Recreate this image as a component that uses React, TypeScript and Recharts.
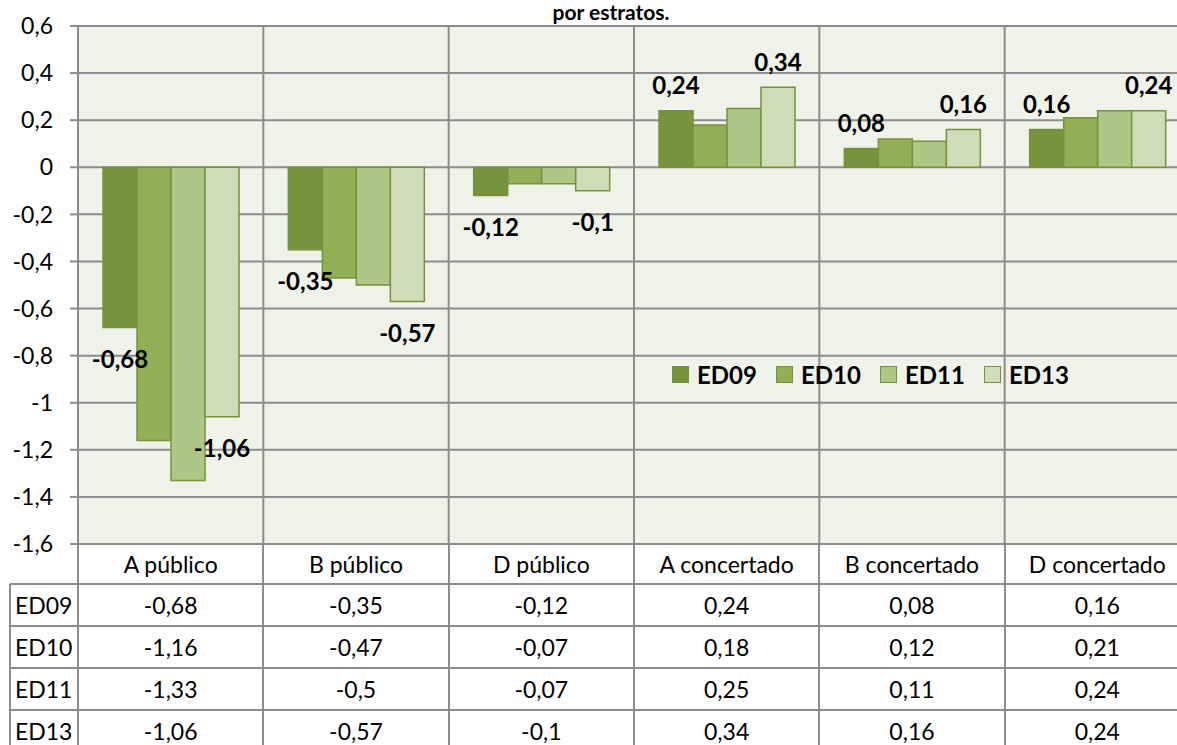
import { BarChart, Bar, XAxis, YAxis, CartesianGrid, Legend, LabelList } from "recharts";

const categories = ["A público", "B público", "D público", "A concertado", "B concertado", "D concertado"];
const seriesNames = ["ED09", "ED10", "ED11", "ED13"];
const ed09 = [-0.68, -0.35, -0.12, 0.24, 0.08, 0.16];
const ed10 = [-1.16, -0.47, -0.07, 0.18, 0.12, 0.21];
const ed11 = [-1.33, -0.5, -0.07, 0.25, 0.11, 0.24];
const ed13 = [-1.06, -0.57, -0.1, 0.34, 0.16, 0.24];
const yTicks = [-1.6, -1.4, -1.2, -1, -0.8, -0.6, -0.4, -0.2, 0, 0.2, 0.4, 0.6];

const seriesValues = [ed09, ed10, ed11, ed13];
const FILLS = ["#77933C", "#93AF55", "#AFC786", "#CFDCB9"];
const BAR_STROKE = "#76923C";
const GRID = "#8C8C8C";
const FONT = "Lato, 'Open Sans', sans-serif";

// layout (px)
const CHART_W = 1194;
const CHART_H = 584;
const PLOT_LEFT = 78;
const PLOT_TOP = 26;
const PLOT_W = CHART_W - PLOT_LEFT - 4;
const BAND = PLOT_W / categories.length;
const ROW_H = 42;

const data = categories.map((cat, i) => {
  const row: Record<string, string | number> = { cat };
  seriesNames.forEach((s, k) => (row[s] = seriesValues[k][i]));
  return row;
});

function fmt(v: number) {
  return String(Math.round(v * 100) / 100).replace(".", ",");
}

function BarLabel(props: any) {
  const { x, y, width, height, value } = props;
  const top = Math.min(y, y + height);
  const bottom = Math.max(y, y + height);
  const cy = value < 0 ? bottom + 31 : top - 26;
  return (
    <text
      x={x + width / 2}
      y={cy}
      textAnchor="middle"
      dominantBaseline="central"
      fontFamily={FONT}
      fontWeight={700}
      fontSize={24}
      fill="#000"
    >
      {fmt(value)}
    </text>
  );
}

function LegendBox(props: any) {
  const items = props.payload ?? [];
  return (
    <div style={{ display: "flex", alignItems: "center", fontFamily: FONT }}>
      {items.map((it: any) => (
        <div key={it.value} style={{ display: "flex", alignItems: "center", width: 104 }}>
          <span
            style={{
              display: "inline-block",
              width: 15,
              height: 15,
              background: it.color,
              border: `1.5px solid ${BAR_STROKE}`,
              marginRight: 8,
            }}
          />
          <span style={{ fontWeight: 700, fontSize: 24, color: "#000" }}>{it.value}</span>
        </div>
      ))}
    </div>
  );
}

function Line({ x, y, w, h }: { x: number; y: number; w: number; h: number }) {
  return <div style={{ position: "absolute", left: x, top: y, width: w, height: h, background: GRID }} />;
}

function DataTable() {
  const tableTop = PLOT_TOP + 518 + 40;
  const lines = [];
  for (let r = 0; r <= seriesNames.length; r++) {
    lines.push(<Line key={"h" + r} x={10} y={tableTop + r * ROW_H - 1} w={1200} h={2} />);
  }
  lines.push(<Line key="vl" x={9} y={tableTop} w={2} h={200} />);
  for (let c = 0; c <= categories.length; c++) {
    lines.push(<Line key={"v" + c} x={PLOT_LEFT + c * BAND - 1} y={PLOT_TOP + 518} w={2} h={250} />);
  }
  const cells = [];
  seriesNames.forEach((s, r) => {
    cells.push(
      <div
        key={"n" + s}
        style={{ position: "absolute", left: 15, top: tableTop + r * ROW_H, height: ROW_H, lineHeight: ROW_H + "px" }}
      >
        {s}
      </div>
    );
    seriesValues[r].forEach((v, c) => {
      cells.push(
        <div
          key={s + c}
          style={{
            position: "absolute",
            left: PLOT_LEFT + c * BAND,
            width: BAND,
            top: tableTop + r * ROW_H,
            height: ROW_H,
            lineHeight: ROW_H + "px",
            textAlign: "center",
          }}
        >
          {fmt(v)}
        </div>
      );
    });
  });
  return (
    <div style={{ position: "absolute", left: 0, top: 0, fontFamily: FONT, fontSize: 23, color: "#000" }}>
      {lines}
      {cells}
    </div>
  );
}

export default function App() {
  return (
    <div
      style={{
        position: "absolute",
        left: 0,
        top: 0,
        width: 1177,
        height: 745,
        overflow: "hidden",
        background: "#fff",
      }}
    >
      <div style={{ position: "absolute", left: 0, top: 0 }}>
        <BarChart
          width={CHART_W}
          height={CHART_H}
          data={data}
          margin={{ top: PLOT_TOP, right: 4, left: 0, bottom: 0 }}
          barCategoryGap="13.5%"
          barGap={0}
        >
          <CartesianGrid
            fill="#EFF2E9"
            fillOpacity={1}
            stroke={GRID}
            strokeWidth={2}
            verticalCoordinatesGenerator={({ offset }: any) =>
              categories.map((_, i) => offset.left + i * (offset.width / categories.length)).concat(offset.left + offset.width)
            }
          />
          <XAxis
            dataKey="cat"
            height={40}
            axisLine={false}
            tickLine={false}
            tickSize={0}
            tickMargin={13}
            interval={0}
            tick={{ fontSize: 23, fill: "#000", fontFamily: FONT }}
          />
          <YAxis
            width={PLOT_LEFT}
            domain={[-1.6, 0.6]}
            ticks={yTicks}
            interval={0}
            allowDataOverflow
            axisLine={{ stroke: GRID, strokeWidth: 2 }}
            tickLine={{ stroke: GRID, strokeWidth: 2 }}
            tickSize={8}
            tickMargin={17}
            tickFormatter={fmt}
            tick={{ fontSize: 23, fill: "#000", fontFamily: FONT }}
          />
          <Legend
            verticalAlign="middle"
            align="center"
            layout="horizontal"
            wrapperStyle={{ left: 672, top: 360, width: 430, height: 30 }}
            content={<LegendBox />}
          />
          {seriesNames.map((s, k) => (
            <Bar key={s} dataKey={s} fill={FILLS[k]} stroke={BAR_STROKE} strokeWidth={1.5} isAnimationActive={false}>
              {(k === 0 || k === seriesNames.length - 1) && <LabelList dataKey={s} content={<BarLabel />} />}
            </Bar>
          ))}
        </BarChart>
      </div>
      <div
        style={{
          position: "absolute",
          left: 0,
          width: 1222,
          top: 0,
          textAlign: "center",
          fontFamily: FONT,
          fontWeight: 700,
          fontSize: 21,
          color: "#000",
          lineHeight: "24px",
        }}
      >
        por estratos.
      </div>
      <DataTable />
    </div>
  );
}
